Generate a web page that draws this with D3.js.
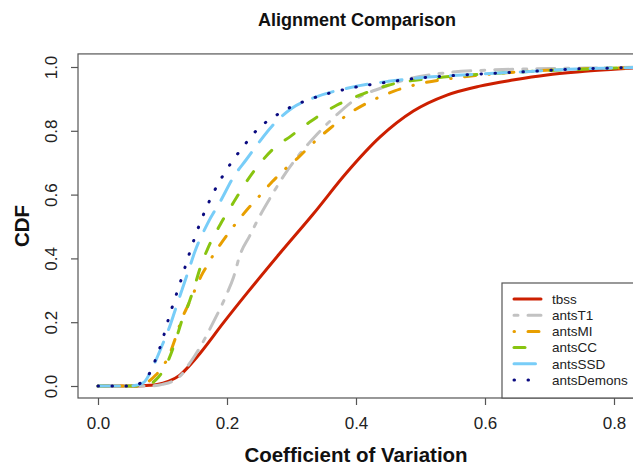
<!DOCTYPE html>
<html>
<head>
<meta charset="utf-8">
<script src="https://cdn.jsdelivr.net/npm/d3@7"></script>
<style>
  html, body { margin: 0; padding: 0; background: #fff; }
  svg { display: block; font-family: "Liberation Sans", Arial, Helvetica, sans-serif; }
</style>
</head>
<body>
<svg id="chart" width="633" height="465"></svg>
<script>
// ---- Data ----
const seriesNames = ["tbss", "antsT1", "antsMI", "antsCC", "antsSSD", "antsDemons"];

const tbssX = [0.0, 0.06, 0.08, 0.09, 0.11, 0.127, 0.14, 0.158, 0.194, 0.231, 0.282, 0.334, 0.386, 0.437, 0.489, 0.541, 0.592, 0.643, 0.696, 0.747, 0.80, 0.85];
const tbssY = [0, 0, 0.002, 0.004, 0.015, 0.034, 0.06, 0.102, 0.197, 0.291, 0.416, 0.54, 0.67, 0.78, 0.862, 0.912, 0.94, 0.959, 0.975, 0.985, 0.993, 1.0];

const antsT1X = [0, 0.08, 0.10, 0.12, 0.13, 0.14, 0.15, 0.16, 0.17, 0.18, 0.19, 0.20, 0.21, 0.22, 0.235, 0.25, 0.27, 0.29, 0.31, 0.34, 0.37, 0.40, 0.44, 0.48, 0.54, 0.60, 0.70, 0.80, 0.85];
const antsT1Y = [0, 0, 0.005, 0.02, 0.037, 0.065, 0.095, 0.128, 0.165, 0.205, 0.245, 0.29, 0.34, 0.41, 0.47, 0.53, 0.60, 0.665, 0.72, 0.79, 0.85, 0.90, 0.935, 0.962, 0.982, 0.99, 0.995, 0.998, 1.0];

const antsMIX = [0, 0.06, 0.075, 0.09, 0.10, 0.11, 0.12, 0.13, 0.14, 0.15, 0.16, 0.17, 0.18, 0.19, 0.21, 0.23, 0.25, 0.27, 0.29, 0.31, 0.33, 0.36, 0.39, 0.42, 0.46, 0.50, 0.54, 0.60, 0.68, 0.75, 0.82, 0.85];
const antsMIY = [0, 0, 0.01, 0.035, 0.06, 0.095, 0.15, 0.21, 0.255, 0.30, 0.345, 0.38, 0.415, 0.445, 0.50, 0.55, 0.595, 0.64, 0.68, 0.715, 0.755, 0.808, 0.855, 0.89, 0.925, 0.948, 0.962, 0.976, 0.988, 0.994, 0.998, 1.0];

const antsCCX = [0, 0.06, 0.08, 0.09, 0.10, 0.11, 0.12, 0.13, 0.14, 0.15, 0.16, 0.17, 0.19, 0.21, 0.23, 0.25, 0.27, 0.30, 0.33, 0.37, 0.41, 0.45, 0.52, 0.60, 0.67, 0.75, 0.82, 0.85];
const antsCCY = [0, 0, 0.005, 0.02, 0.045, 0.085, 0.14, 0.205, 0.255, 0.315, 0.38, 0.43, 0.508, 0.575, 0.64, 0.695, 0.74, 0.785, 0.83, 0.88, 0.915, 0.943, 0.965, 0.978, 0.986, 0.993, 0.998, 1.0];

const antsSSDX = [0, 0.05, 0.07, 0.085, 0.10, 0.11, 0.12, 0.13, 0.14, 0.15, 0.17, 0.19, 0.21, 0.23, 0.25, 0.27, 0.30, 0.33, 0.39, 0.45, 0.50, 0.55, 0.60, 0.67, 0.73, 0.82, 0.85];
const antsSSDY = [0, 0, 0.01, 0.06, 0.13, 0.18, 0.24, 0.30, 0.36, 0.42, 0.51, 0.58, 0.655, 0.71, 0.765, 0.815, 0.87, 0.90, 0.935, 0.955, 0.966, 0.973, 0.979, 0.986, 0.993, 0.998, 1.0];

const antsDemonsX = [0, 0.05, 0.065, 0.08, 0.09, 0.10, 0.11, 0.12, 0.13, 0.14, 0.16, 0.18, 0.20, 0.225, 0.25, 0.27, 0.29, 0.33, 0.39, 0.45, 0.50, 0.55, 0.60, 0.67, 0.73, 0.82, 0.85];
const antsDemonsY = [0, 0, 0.008, 0.04, 0.087, 0.145, 0.215, 0.278, 0.34, 0.405, 0.52, 0.61, 0.68, 0.75, 0.81, 0.84, 0.865, 0.90, 0.933, 0.953, 0.966, 0.973, 0.979, 0.986, 0.993, 0.998, 1.0];

const xTicks = [0.0, 0.2, 0.4, 0.6, 0.8];
const yTicks = [0.0, 0.2, 0.4, 0.6, 0.8, 1.0];
const xTickLabels = ["0.0", "0.2", "0.4", "0.6", "0.8"];
const yTickLabels = ["0.0", "0.2", "0.4", "0.6", "0.8", "1.0"];

const titleText = "Alignment Comparison";
const xLabel = "Coefficient of Variation";
const yLabel = "CDF";

// ---- Styles ----
const seriesData = [
  {name: "tbss",       xs: tbssX,       ys: tbssY,       color: "#cc1f00", dash: null},
  {name: "antsT1",     xs: antsT1X,     ys: antsT1Y,     color: "#c2c2c2", dash: "4,10,18,10"},
  {name: "antsMI",     xs: antsMIX,     ys: antsMIY,     color: "#e89f00", dash: "0.5,13.5,11,13.5"},
  {name: "antsCC",     xs: antsCCX,     ys: antsCCY,     color: "#88c410", dash: "11,17"},
  {name: "antsSSD",    xs: antsSSDX,    ys: antsSSDY,    color: "#78cdf8", dash: "21.5,13.5"},
  {name: "antsDemons", xs: antsDemonsX, ys: antsDemonsY, color: "#0a0a80", dash: "0.5,13.5"}
];

const svg = d3.select("#chart");
const x = d3.scaleLinear().domain([0, 0.8]).range([98, 614]);
const y = d3.scaleLinear().domain([0, 1]).range([386, 67]);

const plotLeft = x(-0.031), plotRight = x(0.88), plotTop = y(1.041), plotBottom = y(-0.0376);
const font = "'Liberation Sans', Arial, Helvetica, sans-serif";

// curves
const line = d3.line().x(d => x(d[0])).y(d => y(d[1])).curve(d3.curveMonotoneX);
seriesData.forEach(s => {
  const pts = s.xs.map((v, i) => [v, s.ys[i]]);
  svg.append("path")
    .datum(pts)
    .attr("d", line)
    .attr("fill", "none")
    .attr("stroke", s.color)
    .attr("stroke-width", 3)
    .attr("stroke-linecap", "round")
    .attr("stroke-linejoin", "round")
    .attr("stroke-dasharray", s.dash);
});

// box
svg.append("rect")
  .attr("x", plotLeft).attr("y", plotTop)
  .attr("width", plotRight - plotLeft).attr("height", plotBottom - plotTop)
  .attr("fill", "none").attr("stroke", "#555").attr("stroke-width", 1.2);

// x axis
const xAxis = d3.axisBottom(x).tickValues(xTicks).tickFormat((d, i) => xTickLabels[i]).tickSize(7).tickPadding(9);
const gx = svg.append("g").attr("transform", `translate(0,${plotBottom})`).call(xAxis);
gx.select(".domain").remove();
gx.selectAll("line").attr("stroke", "#555").attr("stroke-width", 1.2);
gx.selectAll("text").attr("font-family", font).attr("font-size", 17).attr("fill", "#222")
  .attr("dy", null).attr("y", 31);

// y axis
const yAxis = d3.axisLeft(y).tickValues(yTicks).tickFormat((d, i) => yTickLabels[i]).tickSize(7);
const gy = svg.append("g").attr("transform", `translate(${plotLeft},0)`).call(yAxis);
gy.select(".domain").remove();
gy.selectAll("line").attr("stroke", "#555").attr("stroke-width", 1.2);
gy.selectAll("text")
  .attr("font-family", font).attr("font-size", 17).attr("fill", "#222")
  .attr("x", null).attr("dy", null)
  .attr("text-anchor", "middle")
  .attr("transform", `translate(${57 - plotLeft},0) rotate(-90)`);

// titles
svg.append("text").attr("x", 357).attr("y", 26).attr("text-anchor", "middle")
  .attr("font-family", font).attr("font-weight", "bold").attr("font-size", 18).attr("fill", "#111")
  .text(titleText);
svg.append("text").attr("x", 356).attr("y", 462).attr("text-anchor", "middle")
  .attr("font-family", font).attr("font-weight", "bold").attr("font-size", 20.5).attr("fill", "#111")
  .text(xLabel);
svg.append("text").attr("transform", `translate(29,${(plotTop + plotBottom) / 2}) rotate(-90)`)
  .attr("text-anchor", "middle")
  .attr("font-family", font).attr("font-weight", "bold").attr("font-size", 20.5).attr("fill", "#111")
  .text(yLabel);

// legend
const legX = 502, legY = 283;
svg.append("rect").attr("x", legX).attr("y", legY).attr("width", 160).attr("height", plotBottom - legY)
  .attr("fill", "#fff").attr("stroke", "#555").attr("stroke-width", 1.2);
const leg = svg.append("g");
seriesData.forEach((s, i) => {
  const yy = 299 + i * 16.2;
  leg.append("line").attr("x1", 514).attr("x2", 541).attr("y1", yy).attr("y2", yy)
    .attr("stroke", s.color).attr("stroke-width", 3).attr("stroke-linecap", "round")
    .attr("stroke-dasharray", s.dash);
  leg.append("text").attr("x", 552).attr("y", yy + 4.8)
    .attr("font-family", font).attr("font-size", 13.5).attr("fill", "#222")
    .text(seriesNames[i]);
});
</script>
</body>
</html>
